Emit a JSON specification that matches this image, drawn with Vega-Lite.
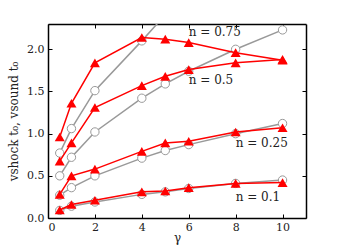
{
  "$schema": "https://vega.github.io/schema/vega-lite/v6.json",
  "width": 258,
  "height": 194,
  "autosize": "none",
  "padding": {"left": 48, "top": 24, "right": 34, "bottom": 33},
  "background": "white",
  "config": {
    "view": {"stroke": null},
    "font": "DejaVu Serif",
    "axis": {
      "grid": false,
      "domain": true,
      "domainColor": "black",
      "domainWidth": 1.5,
      "tickColor": "black",
      "tickSize": -4,
      "tickWidth": 1,
      "labelFont": "DejaVu Serif",
      "labelFontSize": 11,
      "labelColor": "#222",
      "titleFont": "DejaVu Serif",
      "titleFontWeight": "normal",
      "titleFontSize": 12,
      "titleColor": "#222"
    }
  },
  "datasets": {
    "pts": [
      {"n": "0.1", "gamma": 0.5, "kind": "shock", "v": 0.095},
      {"n": "0.1", "gamma": 1, "kind": "shock", "v": 0.16},
      {"n": "0.1", "gamma": 2, "kind": "shock", "v": 0.21},
      {"n": "0.1", "gamma": 4, "kind": "shock", "v": 0.31},
      {"n": "0.1", "gamma": 5, "kind": "shock", "v": 0.32},
      {"n": "0.1", "gamma": 6, "kind": "shock", "v": 0.36},
      {"n": "0.1", "gamma": 8, "kind": "shock", "v": 0.41},
      {"n": "0.1", "gamma": 10, "kind": "shock", "v": 0.42},
      {"n": "0.1", "gamma": 0.5, "kind": "sound", "v": 0.09},
      {"n": "0.1", "gamma": 1, "kind": "sound", "v": 0.14},
      {"n": "0.1", "gamma": 2, "kind": "sound", "v": 0.19},
      {"n": "0.1", "gamma": 4, "kind": "sound", "v": 0.28},
      {"n": "0.1", "gamma": 5, "kind": "sound", "v": 0.31},
      {"n": "0.1", "gamma": 6, "kind": "sound", "v": 0.35},
      {"n": "0.1", "gamma": 8, "kind": "sound", "v": 0.41},
      {"n": "0.1", "gamma": 10, "kind": "sound", "v": 0.45},
      {"n": "0.25", "gamma": 0.5, "kind": "shock", "v": 0.28},
      {"n": "0.25", "gamma": 1, "kind": "shock", "v": 0.5},
      {"n": "0.25", "gamma": 2, "kind": "shock", "v": 0.58},
      {"n": "0.25", "gamma": 4, "kind": "shock", "v": 0.79},
      {"n": "0.25", "gamma": 5, "kind": "shock", "v": 0.89},
      {"n": "0.25", "gamma": 6, "kind": "shock", "v": 0.91},
      {"n": "0.25", "gamma": 8, "kind": "shock", "v": 1.02},
      {"n": "0.25", "gamma": 10, "kind": "shock", "v": 1.07},
      {"n": "0.25", "gamma": 0.5, "kind": "sound", "v": 0.27},
      {"n": "0.25", "gamma": 1, "kind": "sound", "v": 0.36},
      {"n": "0.25", "gamma": 2, "kind": "sound", "v": 0.5},
      {"n": "0.25", "gamma": 4, "kind": "sound", "v": 0.71},
      {"n": "0.25", "gamma": 5, "kind": "sound", "v": 0.8},
      {"n": "0.25", "gamma": 6, "kind": "sound", "v": 0.87},
      {"n": "0.25", "gamma": 8, "kind": "sound", "v": 1.0},
      {"n": "0.25", "gamma": 10, "kind": "sound", "v": 1.12},
      {"n": "0.5", "gamma": 0.5, "kind": "shock", "v": 0.675},
      {"n": "0.5", "gamma": 1, "kind": "shock", "v": 0.89},
      {"n": "0.5", "gamma": 2, "kind": "shock", "v": 1.31},
      {"n": "0.5", "gamma": 4, "kind": "shock", "v": 1.57},
      {"n": "0.5", "gamma": 5, "kind": "shock", "v": 1.68},
      {"n": "0.5", "gamma": 6, "kind": "shock", "v": 1.76},
      {"n": "0.5", "gamma": 8, "kind": "shock", "v": 1.84},
      {"n": "0.5", "gamma": 10, "kind": "shock", "v": 1.88},
      {"n": "0.5", "gamma": 0.5, "kind": "sound", "v": 0.5},
      {"n": "0.5", "gamma": 1, "kind": "sound", "v": 0.72},
      {"n": "0.5", "gamma": 2, "kind": "sound", "v": 1.02},
      {"n": "0.5", "gamma": 4, "kind": "sound", "v": 1.42},
      {"n": "0.5", "gamma": 5, "kind": "sound", "v": 1.59},
      {"n": "0.5", "gamma": 6, "kind": "sound", "v": 1.74},
      {"n": "0.5", "gamma": 8, "kind": "sound", "v": 2.0},
      {"n": "0.5", "gamma": 10, "kind": "sound", "v": 2.23},
      {"n": "0.75", "gamma": 0.5, "kind": "shock", "v": 0.96},
      {"n": "0.75", "gamma": 1, "kind": "shock", "v": 1.36},
      {"n": "0.75", "gamma": 2, "kind": "shock", "v": 1.84},
      {"n": "0.75", "gamma": 4, "kind": "shock", "v": 2.14},
      {"n": "0.75", "gamma": 5, "kind": "shock", "v": 2.12},
      {"n": "0.75", "gamma": 6, "kind": "shock", "v": 2.08},
      {"n": "0.75", "gamma": 8, "kind": "shock", "v": 1.96},
      {"n": "0.75", "gamma": 10, "kind": "shock", "v": 1.87},
      {"n": "0.75", "gamma": 0.5, "kind": "sound", "v": 0.77},
      {"n": "0.75", "gamma": 1, "kind": "sound", "v": 1.06},
      {"n": "0.75", "gamma": 2, "kind": "sound", "v": 1.51},
      {"n": "0.75", "gamma": 4, "kind": "sound", "v": 2.1},
      {"n": "0.75", "gamma": 5, "kind": "sound", "v": 2.41},
      {"n": "0.75", "gamma": 6, "kind": "sound", "v": 2.7},
      {"n": "0.75", "gamma": 8, "kind": "sound", "v": 3.2},
      {"n": "0.75", "gamma": 10, "kind": "sound", "v": 3.6}
    ],
    "labels": [
      {"gamma": 6.0, "v": 2.2, "label": "n = 0.75"},
      {"gamma": 6.0, "v": 1.64, "label": "n = 0.5"},
      {"gamma": 8.0, "v": 0.89, "label": "n = 0.25"},
      {"gamma": 8.0, "v": 0.25, "label": "n = 0.1"}
    ]
  },
  "resolve": {"axis": {"x": "independent", "y": "independent"}},
  "layer": [
    {
      "data": {"name": "pts"},
      "transform": [{"filter": "datum.kind == 'sound'"}],
      "mark": {"type": "line", "color": "#999999", "strokeWidth": 1.5, "clip": true},
      "encoding": {
        "x": {"field": "gamma", "type": "quantitative", "scale": {"domain": [0, 11], "nice": false},
          "axis": {"values": [0, 2, 4, 6, 8, 10], "title": "γ", "labelPadding": 7, "titlePadding": 0, "format": "d"}},
        "y": {"field": "v", "type": "quantitative", "scale": {"domain": [0, 2.3], "nice": false},
          "axis": {"values": [0, 0.5, 1, 1.5, 2], "format": ".1f", "title": "vshock t₀, vsound t₀", "labelPadding": 8, "titlePadding": 6}},
        "detail": {"field": "n"}
      }
    },
    {
      "data": {"name": "pts"},
      "transform": [{"filter": "datum.kind == 'sound'"}],
      "mark": {"type": "point", "shape": "circle", "filled": true, "fill": "white", "stroke": "#999999", "strokeWidth": 1, "size": 70, "opacity": 1, "clip": true},
      "encoding": {
        "x": {"field": "gamma", "type": "quantitative", "axis": {"orient": "top", "values": [0, 2, 4, 6, 8, 10], "labels": false, "title": null}},
        "y": {"field": "v", "type": "quantitative", "axis": {"orient": "right", "values": [0, 0.5, 1, 1.5, 2], "labels": false, "title": null}}
      }
    },
    {
      "data": {"name": "pts"},
      "transform": [{"filter": "datum.kind == 'shock'"}],
      "mark": {"type": "line", "color": "#ff0000", "strokeWidth": 1.5, "clip": true},
      "encoding": {
        "x": {"field": "gamma", "type": "quantitative", "axis": null},
        "y": {"field": "v", "type": "quantitative", "axis": null},
        "detail": {"field": "n"}
      }
    },
    {
      "data": {"name": "pts"},
      "transform": [{"filter": "datum.kind == 'shock'"}],
      "mark": {"type": "point", "shape": "triangle-up", "filled": true, "color": "#ff0000", "size": 100, "opacity": 1, "clip": true},
      "encoding": {
        "x": {"field": "gamma", "type": "quantitative", "axis": null},
        "y": {"field": "v", "type": "quantitative", "axis": null}
      }
    },
    {
      "data": {"name": "labels"},
      "mark": {"type": "text", "align": "left", "baseline": "middle", "font": "DejaVu Serif", "fontSize": 12, "color": "#222"},
      "encoding": {
        "x": {"field": "gamma", "type": "quantitative", "axis": null},
        "y": {"field": "v", "type": "quantitative", "axis": null},
        "text": {"field": "label"}
      }
    }
  ]
}
